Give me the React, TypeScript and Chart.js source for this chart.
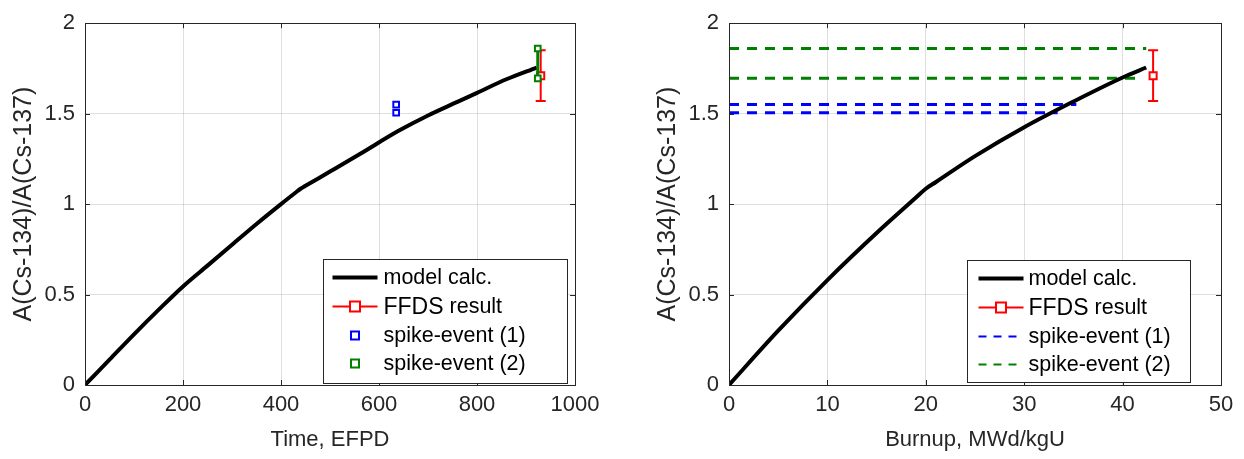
import React, { useEffect, useRef } from "react";
import { Chart, registerables } from "chart.js";

Chart.register(...registerables);

// ---------- data ----------
const timeEFPD = [0, 50, 100, 150, 200, 250, 300, 350, 400, 430, 440, 450, 500, 561, 640, 700, 760, 800, 860, 922];
const ratioVsTime = [0, 0.14, 0.28, 0.415, 0.545, 0.66, 0.775, 0.89, 1.0, 1.064, 1.085, 1.101, 1.18, 1.277, 1.405, 1.49, 1.565, 1.615, 1.69, 1.755];

const burnupMWd = [0, 5, 10, 15, 19, 20, 21, 25, 30, 35, 40, 42.4];
const ratioVsBurnup = [0, 0.3, 0.58, 0.84, 1.036, 1.085, 1.121, 1.265, 1.425, 1.567, 1.7, 1.755];

const ffdsTime = [930];
const ffdsBurnup = [43.1];
const ffdsRatio = [1.71];
const ffdsError = [0.14];

const spike1Time = [635, 635];
const spike1Ratio = [1.55, 1.505];
const spike2Time = [924, 924];
const spike2Ratio = [1.86, 1.695];

const spike1BurnupEnd = [35.3, 33.4];
const spike2BurnupEnd = [42.4, 41.5];

const timeTicks = [0, 200, 400, 600, 800, 1000];
const burnupTicks = [0, 10, 20, 30, 40, 50];
const ratioTicks = [0, 0.5, 1, 1.5, 2];

// ---------- styling ----------
const FONT = "'Liberation Sans', Arial, Helvetica, sans-serif";
const AXIS = "#262626";
const GRID = "rgba(38,38,38,0.15)";
const BLUE = "#0000ff";
const GREEN = "#008000";
const RED = "#ff0000";

type LegendRow = {
  text: string;
  prefix?: string;
  color: string;
  kind: "line" | "lineMarker" | "marker" | "dash";
  width: number;
};

type FrameCfg = {
  errorBars: { x: number; y: number; err: number; color: string }[];
  legend: { dx: number; dy: number; w: number; h: number; sampleX0: number; sampleX1: number; textX: number; rows: LegendRow[] };
};

function drawSquare(ctx: CanvasRenderingContext2D, x: number, y: number, half: number, color: string) {
  ctx.save();
  ctx.fillStyle = "#ffffff";
  ctx.strokeStyle = color;
  ctx.lineWidth = 2;
  ctx.fillRect(x - half, y - half, half * 2, half * 2);
  ctx.strokeRect(x - half, y - half, half * 2, half * 2);
  ctx.restore();
}

function makeFramePlugin(cfg: FrameCfg) {
  return {
    id: "matlabFrame",
    beforeDatasetsDraw(chart: any) {
      const { ctx } = chart;
      const xs = chart.scales.x;
      const ys = chart.scales.y;
      cfg.errorBars.forEach((eb) => {
        const x = xs.getPixelForValue(eb.x);
        const y1 = ys.getPixelForValue(eb.y - eb.err);
        const y2 = ys.getPixelForValue(eb.y + eb.err);
        ctx.save();
        ctx.strokeStyle = eb.color;
        ctx.lineWidth = 2;
        ctx.beginPath();
        ctx.moveTo(x, y1);
        ctx.lineTo(x, y2);
        ctx.moveTo(x - 5, y1);
        ctx.lineTo(x + 5, y1);
        ctx.moveTo(x - 5, y2);
        ctx.lineTo(x + 5, y2);
        ctx.stroke();
        ctx.restore();
      });
    },
    afterDraw(chart: any) {
      const { ctx, chartArea: a } = chart;
      const xs = chart.scales.x;
      const ys = chart.scales.y;
      ctx.save();
      // inner tick marks
      ctx.strokeStyle = AXIS;
      ctx.lineWidth = 1;
      ctx.beginPath();
      xs.ticks.forEach((t: any) => {
        const px = Math.round(xs.getPixelForValue(t.value)) + 0.5;
        ctx.moveTo(px, a.bottom);
        ctx.lineTo(px, a.bottom - 5);
        ctx.moveTo(px, a.top);
        ctx.lineTo(px, a.top + 5);
      });
      ys.ticks.forEach((t: any) => {
        const py = Math.round(ys.getPixelForValue(t.value)) + 0.5;
        ctx.moveTo(a.left, py);
        ctx.lineTo(a.left + 5, py);
        ctx.moveTo(a.right, py);
        ctx.lineTo(a.right - 5, py);
      });
      ctx.stroke();
      // box
      ctx.strokeRect(Math.round(a.left) + 0.5, Math.round(a.top) + 0.5, Math.round(a.right - a.left), Math.round(a.bottom - a.top));

      // legend
      const L = cfg.legend;
      const lx = Math.round(a.left + L.dx) + 0.5;
      const ly = Math.round(a.top + L.dy) + 0.5;
      ctx.fillStyle = "#ffffff";
      ctx.fillRect(lx, ly, L.w, L.h);
      ctx.strokeStyle = AXIS;
      ctx.lineWidth = 1;
      ctx.strokeRect(lx, ly, L.w, L.h);
      const rowY = [18, 47, 76, 104];
      L.rows.forEach((r, i) => {
        const y = ly + rowY[i];
        const x0 = lx + L.sampleX0;
        const x1 = lx + L.sampleX1;
        if (r.kind === "line" || r.kind === "lineMarker" || r.kind === "dash") {
          ctx.save();
          ctx.strokeStyle = r.color;
          ctx.lineWidth = r.width;
          if (r.kind === "dash") ctx.setLineDash([8, 7]);
          ctx.beginPath();
          ctx.moveTo(x0, y);
          ctx.lineTo(x1, y);
          ctx.stroke();
          ctx.restore();
        }
        if (r.kind === "lineMarker") drawSquare(ctx, (x0 + x1) / 2, y, 5, r.color);
        if (r.kind === "marker") drawSquare(ctx, (x0 + x1) / 2, y, 4, r.color);
        ctx.fillStyle = "#000000";
        ctx.textBaseline = "middle";
        ctx.textAlign = "left";
        let tx = lx + L.textX;
        if (r.prefix) {
          ctx.font = `23px ${FONT}`;
          ctx.fillText(r.prefix, tx, y + 1);
          tx += ctx.measureText(r.prefix).width;
        }
        ctx.font = `21.5px ${FONT}`;
        ctx.fillText(r.text, tx, y + 1);
      });
      ctx.restore();
    },
  };
}

function makeOptions(xTicks: number[], xTitle: string, rightPad: number) {
  return {
    responsive: false,
    animation: false as const,
    layout: { padding: { top: 17, right: rightPad, left: 0, bottom: 0 } },
    plugins: { legend: { display: false }, tooltip: { enabled: false } },
    scales: {
      x: {
        type: "linear" as const,
        min: xTicks[0],
        max: xTicks[xTicks.length - 1],
        afterBuildTicks: (s: any) => {
          s.ticks = xTicks.map((v) => ({ value: v }));
        },
        afterFit: (s: any) => {
          s.height = 74;
        },
        grid: { color: GRID, drawTicks: false, lineWidth: 1 },
        border: { display: false },
        ticks: { color: AXIS, font: { family: FONT, size: 22 }, padding: 7, maxRotation: 0, callback: (v: any) => String(v) },
        title: { display: true, text: xTitle, color: AXIS, font: { family: FONT, size: 22 }, padding: { top: 0, bottom: 6 } },
      },
      y: {
        type: "linear" as const,
        min: ratioTicks[0],
        max: ratioTicks[ratioTicks.length - 1],
        afterBuildTicks: (s: any) => {
          s.ticks = ratioTicks.map((v) => ({ value: v }));
        },
        afterFit: (s: any) => {
          s.width = 85;
        },
        grid: { color: GRID, drawTicks: false, lineWidth: 1 },
        border: { display: false },
        ticks: { color: AXIS, font: { family: FONT, size: 22 }, padding: 10, callback: (v: any) => String(v) },
        title: { display: true, text: "A(Cs-134)/A(Cs-137)", color: AXIS, font: { family: FONT, size: 25 }, padding: { top: 9, bottom: 0 } },
      },
    },
  };
}

function pts(xs: number[], ys: number[]) {
  return xs.map((x, i) => ({ x, y: ys[i] }));
}

function timeConfig() {
  return {
    type: "scatter" as const,
    data: {
      datasets: [
        { label: "spike-event (2)", data: pts(spike2Time, spike2Ratio), showLine: true, borderColor: GREEN, borderWidth: 3, pointStyle: "rect", pointRadius: 4, pointBorderWidth: 2, pointBorderColor: GREEN, pointBackgroundColor: "#ffffff", order: 0 },
        { label: "spike-event (1)", data: pts(spike1Time, spike1Ratio), showLine: false, borderColor: BLUE, pointStyle: "rect", pointRadius: 4, pointBorderWidth: 2, pointBorderColor: BLUE, pointBackgroundColor: "#ffffff", order: 0 },
        { label: "FFDS result", data: pts(ffdsTime, ffdsRatio), showLine: false, pointStyle: "rect", pointRadius: 5, pointBorderWidth: 2, pointBorderColor: RED, pointBackgroundColor: "#ffffff", order: 1 },
        { label: "model calc.", data: pts(timeEFPD, ratioVsTime), showLine: true, borderColor: "#000000", borderWidth: 4, pointRadius: 0, cubicInterpolationMode: "monotone", order: 2 },
      ],
    },
    options: makeOptions(timeTicks, "Time, EFPD", 45),
  };
}

function burnupConfig() {
  const dashed = (end: number, level: number, color: string) => ({
    label: "dash",
    data: [{ x: 0, y: level }, { x: end, y: level }],
    showLine: true,
    borderColor: color,
    borderWidth: 3,
    borderDash: [10, 8],
    pointRadius: 0,
    order: 3,
  });
  return {
    type: "scatter" as const,
    data: {
      datasets: [
        ...spike2Ratio.map((v, i) => dashed(spike2BurnupEnd[i], v, GREEN)),
        ...spike1Ratio.map((v, i) => dashed(spike1BurnupEnd[i], v, BLUE)),
        { label: "FFDS result", data: pts(ffdsBurnup, ffdsRatio), showLine: false, pointStyle: "rect", pointRadius: 5, pointBorderWidth: 2, pointBorderColor: RED, pointBackgroundColor: "#ffffff", order: 0 },
        { label: "model calc.", data: pts(burnupMWd, ratioVsBurnup), showLine: true, borderColor: "#000000", borderWidth: 4, pointRadius: 0, cubicInterpolationMode: "monotone", order: 1 },
      ],
    },
    options: makeOptions(burnupTicks, "Burnup, MWd/kgU", 23),
  };
}

const leftLegendRows: LegendRow[] = [
  { text: "model calc.", color: "#000000", kind: "line", width: 4 },
  { prefix: "FFDS", text: " result", color: RED, kind: "lineMarker", width: 2 },
  { text: "spike-event (1)", color: BLUE, kind: "marker", width: 2 },
  { text: "spike-event (2)", color: GREEN, kind: "marker", width: 2 },
];
const rightLegendRows: LegendRow[] = [
  { text: "model calc.", color: "#000000", kind: "line", width: 4 },
  { prefix: "FFDS", text: " result", color: RED, kind: "lineMarker", width: 2 },
  { text: "spike-event (1)", color: BLUE, kind: "dash", width: 2 },
  { text: "spike-event (2)", color: GREEN, kind: "dash", width: 2 },
];

function Plot(props: { left: number; width: number; config: any; plugin: any }) {
  const ref = useRef<HTMLCanvasElement>(null);
  useEffect(() => {
    const chart = new Chart(ref.current as HTMLCanvasElement, { ...props.config, plugins: [props.plugin] });
    return () => chart.destroy();
  }, []);
  return (
    <canvas
      ref={ref}
      width={props.width}
      height={459}
      style={{ position: "absolute", left: props.left, top: 0, width: props.width, height: 459 }}
    />
  );
}

export default function App() {
  const leftPlugin = makeFramePlugin({
    errorBars: [{ x: ffdsTime[0], y: ffdsRatio[0], err: ffdsError[0], color: RED }],
    legend: { dx: 238, dy: 236, w: 244, h: 124, sampleX0: 9, sampleX1: 54, textX: 60, rows: leftLegendRows },
  });
  const rightPlugin = makeFramePlugin({
    errorBars: [{ x: ffdsBurnup[0], y: ffdsRatio[0], err: ffdsError[0], color: RED }],
    legend: { dx: 238, dy: 237, w: 223, h: 122, sampleX0: 11, sampleX1: 56, textX: 61, rows: rightLegendRows },
  });
  return (
    <div style={{ position: "absolute", left: 0, top: 0, width: 1244, height: 459, background: "#ffffff" }}>
      <Plot left={0} width={620} config={timeConfig()} plugin={leftPlugin} />
      <Plot left={644} width={600} config={burnupConfig()} plugin={rightPlugin} />
    </div>
  );
}
